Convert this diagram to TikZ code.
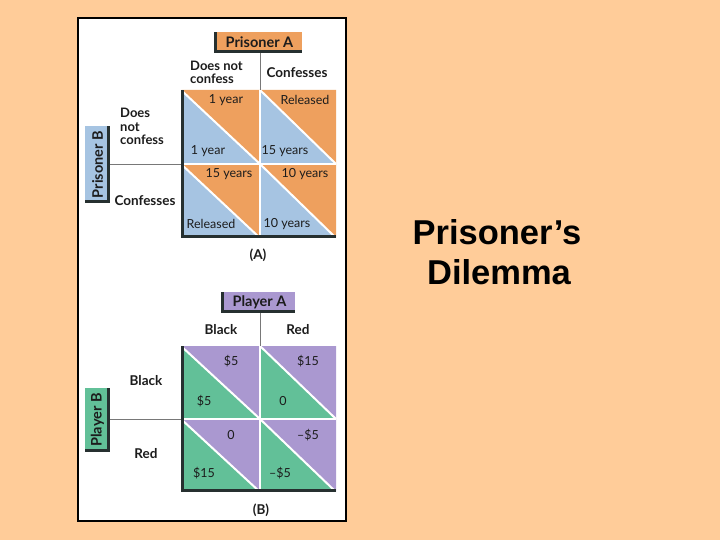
\documentclass[tikz,border=0pt]{standalone}
\usepackage{fontspec}
\usepackage{graphicx}
\setmainfont{Lato}
\newfontfamily\titlefont{Liberation Sans}
\definecolor{bg}{RGB}{255,204,153}
\definecolor{orng}{RGB}{238,160,94}
\definecolor{blu}{RGB}{166,196,226}
\definecolor{purp}{RGB}{170,152,208}
\definecolor{grn}{RGB}{98,192,152}
\definecolor{shd}{RGB}{38,48,48}
\definecolor{txt}{RGB}{28,28,28}
\definecolor{conn}{RGB}{120,120,120}
\newcommand\paycell[6]{%
  \fill[#5] (#1,#2) rectangle (#3,#4);
  \fill[#6] (#1,#2) -- (#3,#2) -- (#3,#4) -- cycle;
  \draw[white, line width=2] (#1,#2) -- (#3,#4);}
\begin{document}
\begin{tikzpicture}[x=1pt,y=-1pt,
  lbl/.style={font=\bfseries\fontsize{13.5}{13}\selectfont, text=txt, inner sep=0},
  lbltwo/.style={font=\bfseries\fontsize{13}{13.2}\selectfont, text=txt, inner sep=0, align=left, anchor=west},
  val/.style={font=\fontsize{12.5}{13}\selectfont, text=txt, inner sep=0},
  hdrbox/.style={font=\bfseries\fontsize{14.5}{13}\selectfont, text=txt, inner sep=0},
  connline/.style={draw=conn, line width=0.8},
  sep/.style={draw=white, line width=1.4}]
\fill[bg] (0,0) rectangle (720,540);
\useasboundingbox (0,0) rectangle (720,540);
\draw[line width=2, fill=white] (78,18) rectangle (346,521);

% ---------- Panel A ----------
\paycell{181}{90}{260}{164}{blu}{orng}
\paycell{260}{90}{336}{164}{blu}{orng}
\paycell{181}{164}{260}{238}{blu}{orng}
\paycell{260}{164}{336}{238}{blu}{orng}
\draw[sep] (260,90) -- (260,238);
\draw[sep] (181,164) -- (336,164);
\fill[shd] (181,90) rectangle (184,238);
\fill[shd] (181,235) rectangle (336,238);
\coordinate (ta) at (260,90);
\coordinate (la) at (181,164);

\node[hdrbox, fill=orng, minimum width=88, minimum height=21] (pa) at (258,42.5) {\hspace*{3pt}Prisoner A};
\fill[shd] (pa.north west) rectangle ([xshift=3pt]pa.south west);
\fill[shd] (pa.south west) rectangle ([yshift=3pt]pa.south east);
\node[hdrbox, fill=blu, minimum width=25, minimum height=77] (pb) at (97.5,164.5) {\rotatebox{90}{Prisoner B}};
\fill[shd] ([xshift=-3pt]pb.north east) rectangle (pb.south east);
\fill[shd] ([yshift=3pt]pb.south west) rectangle (pb.south east);
\draw[connline] (pa.south -| ta) -- (ta);
\draw[connline] (pb.east |- la) -- (la);

\node[lbltwo] (ca1) at (190,72) {Does not\\confess};
\node[lbl] (ca2) at (297,73) {Confesses};
\node[lbltwo] (ra1) at (120,126.5) {Does\\not\\confess};
\node[lbl] (ra2) at (145,201) {Confesses};
\node[lbl] (capa) at (258,255) {(A)};

\node[val] (a11u) at (226,100) {1 year};
\node[val] (a11l) at (208,151) {1 year};
\node[val] (a12u) at (305,100) {Released};
\node[val] (a12l) at (285,151) {15 years};
\node[val] (a21u) at (229,174) {15 years};
\node[val] (a21l) at (211,224) {Released};
\node[val] (a22u) at (305,174) {10 years};
\node[val] (a22l) at (287,224) {10 years};

% ---------- Panel B ----------
\paycell{181}{346}{260}{419}{grn}{purp}
\paycell{260}{346}{336}{419}{grn}{purp}
\paycell{181}{419}{260}{492}{grn}{purp}
\paycell{260}{419}{336}{492}{grn}{purp}
\draw[sep] (260,346) -- (260,492);
\draw[sep] (181,419) -- (336,419);
\fill[shd] (181,346) rectangle (184,492);
\fill[shd] (181,489) rectangle (336,492);
\coordinate (tb) at (260,346);
\coordinate (lb) at (181,419);

\node[hdrbox, fill=purp, minimum width=74, minimum height=21] (pla) at (258,302.5) {\hspace*{3pt}Player A};
\fill[shd] (pla.north west) rectangle ([xshift=3pt]pla.south west);
\fill[shd] (pla.south west) rectangle ([yshift=3pt]pla.south east);
\node[hdrbox, fill=grn, minimum width=25, minimum height=64] (plb) at (97.5,420) {\rotatebox{90}{Player B}};
\fill[shd] ([xshift=-3pt]plb.north east) rectangle (plb.south east);
\fill[shd] ([yshift=3pt]plb.south west) rectangle (plb.south east);
\draw[connline] (pla.south -| tb) -- (tb);
\draw[connline] (plb.east |- lb) -- (lb);

\node[lbl] (cb1) at (221,330) {Black};
\node[lbl] (cb2) at (298,330) {Red};
\node[lbl] (rb1) at (146,381) {Black};
\node[lbl] (rb2) at (146,454) {Red};
\node[lbl] (capb) at (261,510) {(B)};

\node[val] (b11u) at (231,361) {\$5};
\node[val] (b11l) at (204,401) {\$5};
\node[val] (b12u) at (308,361) {\$15};
\node[val] (b12l) at (283,401) {0};
\node[val] (b21u) at (231,435) {0};
\node[val] (b21l) at (204,473) {\$15};
\node[val] (b22u) at (308,435) {–\$5};
\node[val] (b22l) at (280,473) {–\$5};

% ---------- Title ----------
\node[font=\titlefont\bfseries\fontsize{34.5}{40}\selectfont, text=black, inner sep=0] (t1) at (497,232) {Prisoner’s};
\node[font=\titlefont\bfseries\fontsize{34.5}{40}\selectfont, text=black, inner sep=0] (t2) at (499,272) {Dilemma};
\end{tikzpicture}
\end{document}
